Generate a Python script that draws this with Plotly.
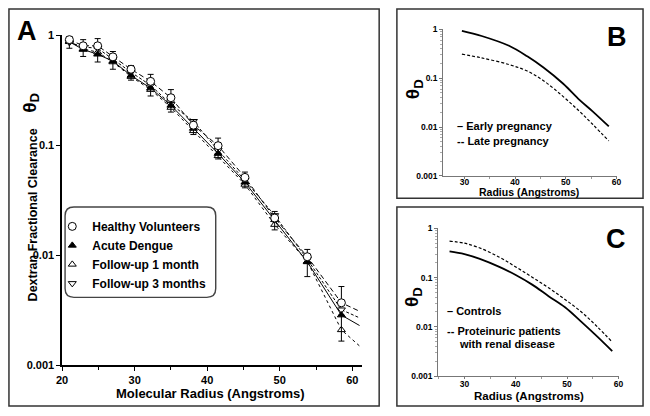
import plotly.graph_objects as go

# ---------------- Panel A data ----------------
radius = [21.0, 22.9, 24.9, 27.0, 29.5, 32.2, 35.0, 38.1, 41.5, 45.2, 49.3, 53.8, 58.5]
healthy = [0.91, 0.80, 0.80, 0.635, 0.49, 0.38, 0.27, 0.152, 0.099, 0.051, 0.0218, 0.0097, 0.0037]
healthy_upper = [0.97, 0.91, 0.93, 0.71, 0.53, 0.44, 0.32, 0.17, 0.116, 0.057, 0.025, 0.0113, 0.0052]
dengue = [0.87, 0.74, 0.67, 0.58, 0.43, 0.33, 0.23, 0.142, 0.084, 0.046, 0.021, 0.0087, 0.00286]
dengue_lower = [0.76, 0.64, 0.57, 0.49, 0.39, 0.28, 0.20, 0.125, 0.075, 0.041, 0.0170, 0.0064, 0.00166]
fu1 = [0.88, 0.75, 0.70, 0.57, 0.42, 0.32, 0.22, 0.135, 0.080, 0.044, 0.019, 0.0088, 0.0021]
fu3 = [0.86, 0.78, 0.76, 0.60, 0.46, 0.35, 0.235, 0.165, 0.090, 0.048, 0.023, 0.0092, 0.0032]
fit_end_radius = 61.0
healthy_end = 0.0031
dengue_end = 0.0023
fu1_end = 0.0015
fu3_end = 0.0027

# ---------------- Panel B data ----------------
b_radius = [29.5, 33.4, 38.8, 42.4, 45.6, 49.5, 52.7, 55.3, 58.5]
early_preg = [0.93, 0.73, 0.46, 0.28, 0.165, 0.077, 0.036, 0.021, 0.0103]
late_preg = [0.31, 0.26, 0.19, 0.14, 0.089, 0.042, 0.021, 0.0114, 0.0052]

# ---------------- Panel C data ----------------
c_radius = [27.1, 30.0, 33.0, 36.8, 40.0, 43.2, 46.4, 49.6, 52.8, 55.9, 58.8]
controls = [0.34, 0.30, 0.24, 0.165, 0.113, 0.072, 0.042, 0.025, 0.0126, 0.0063, 0.0032]
proteinuric = [0.55, 0.50, 0.40, 0.26, 0.165, 0.102, 0.062, 0.036, 0.020, 0.010, 0.0049]

log_ticks = [0.001, 0.01, 0.1, 1]
log_tick_text = ["0.001", "0.01", "0.1", "1"]

W, H = 650, 416
FONT = "Liberation Sans, Arial, sans-serif"


def fx(px):
    return px / W


def fy(py):
    return 1 - py / H


fig = go.Figure()

line_x = radius + [fit_end_radius]
series = [
    ("Follow-up 1 month", fu1, fu1_end, "dot", dict(symbol="triangle-up", color="white", size=7,
                                                     line=dict(color="black", width=1))),
    ("Follow-up 3 months", fu3, fu3_end, "3px,2px", dict(symbol="triangle-down", color="white", size=7,
                                                          line=dict(color="black", width=1))),
    ("Acute Dengue", dengue, dengue_end, "solid", dict(symbol="triangle-up", color="black", size=7,
                                                       line=dict(color="black", width=1))),
    ("Healthy Volunteers", healthy, healthy_end, "5px,3px", dict(symbol="circle", color="white", size=8,
                                                                 line=dict(color="black", width=1))),
]

# connecting / fitted lines
for name, vals, end, dash, mk in series:
    fig.add_trace(go.Scatter(x=line_x, y=vals + [end], mode="lines", showlegend=False,
                             line=dict(color="black", width=1, dash=dash),
                             xaxis="x", yaxis="y", hoverinfo="skip"))

legend_rank = {"Healthy Volunteers": 1, "Acute Dengue": 2, "Follow-up 1 month": 3, "Follow-up 3 months": 4}
for name, vals, end, dash, mk in series:
    err = None
    if name == "Healthy Volunteers":
        err = dict(type="data", symmetric=False,
                   array=[u - v for u, v in zip(healthy_upper, vals)],
                   arrayminus=[0] * len(vals), color="black", thickness=1, width=3)
    elif name == "Acute Dengue":
        err = dict(type="data", symmetric=False,
                   array=[0] * len(vals),
                   arrayminus=[v - l for v, l in zip(vals, dengue_lower)],
                   color="black", thickness=1, width=3)
    fig.add_trace(go.Scatter(x=radius, y=vals, mode="markers", name=name, marker=mk,
                             error_y=err, legendrank=legend_rank[name],
                             xaxis="x", yaxis="y", cliponaxis=False))

# Panel B
fig.add_trace(go.Scatter(x=b_radius, y=early_preg, mode="lines", showlegend=False,
                         line=dict(color="black", width=1.8, shape="spline"), xaxis="x2", yaxis="y2"))
fig.add_trace(go.Scatter(x=b_radius, y=late_preg, mode="lines", showlegend=False,
                         line=dict(color="black", width=1.2, dash="3px,2px", shape="spline"),
                         xaxis="x2", yaxis="y2"))
# Panel C
fig.add_trace(go.Scatter(x=c_radius, y=controls, mode="lines", showlegend=False,
                         line=dict(color="black", width=1.8, shape="spline"), xaxis="x3", yaxis="y3"))
fig.add_trace(go.Scatter(x=c_radius, y=proteinuric, mode="lines", showlegend=False,
                         line=dict(color="black", width=1.2, dash="3px,2px", shape="spline"),
                         xaxis="x3", yaxis="y3"))

tickfont_a = dict(family=FONT, size=11, color="black", weight="bold")
tickfont_b = dict(family=FONT, size=8.5, color="black", weight="bold")

common_x = dict(showgrid=False, zeroline=False, showline=True, ticks="outside", mirror=False)
common_y = dict(showgrid=False, zeroline=False, showline=True, ticks="outside", type="log",
                tickvals=log_ticks, ticktext=log_tick_text, range=[-3, 0])

fig.update_layout(
    width=W, height=H, margin=dict(l=0, r=0, t=0, b=0),
    paper_bgcolor="white", plot_bgcolor="white",
    font=dict(family=FONT, color="black"),
    xaxis=dict(domain=[fx(57), fx(362)], range=[20, 61.4], tick0=20, dtick=10,
               linecolor="black", linewidth=1.5, tickcolor="black", ticklen=4, tickwidth=1.2,
               minor=dict(dtick=5, ticks="outside", ticklen=3, tickcolor="black"),
               tickfont=tickfont_a, anchor="y", **common_x),
    yaxis=dict(domain=[fy(370), fy(30)], linecolor="black", linewidth=1.5, tickcolor="black",
               ticklen=4, tickwidth=1.2, tickfont=tickfont_a, anchor="x", **common_y),
    xaxis2=dict(domain=[fx(444), fx(621)], range=[25.8, 60.2], tick0=30, dtick=10,
                linecolor="#777", linewidth=1, tickcolor="#777", ticklen=2, ticklabelstandoff=-4,
                minor=dict(dtick=5, ticks="outside", ticklen=2, tickcolor="#999"),
                tickfont=tickfont_b, anchor="y2", **common_x),
    yaxis2=dict(domain=[fy(175), fy(24)], linecolor="#777", linewidth=1, tickcolor="#777",
                ticklen=3, tickfont=tickfont_b, anchor="x2",
                minor=dict(ticks="outside", ticklen=2, tickcolor="#aaa", dtick="D1"), **common_y),
    xaxis3=dict(domain=[fx(439), fx(623)], range=[24.9, 60.2], tick0=30, dtick=10,
                linecolor="#777", linewidth=1, tickcolor="#777", ticklen=2, ticklabelstandoff=-2,
                minor=dict(dtick=5, ticks="outside", ticklen=2, tickcolor="#999"),
                tickfont=tickfont_b, anchor="y3", **common_x),
    yaxis3=dict(domain=[fy(381), fy(229)], linecolor="#777", linewidth=1, tickcolor="#777",
                ticklen=3, tickfont=tickfont_b, anchor="x3",
                minor=dict(ticks="outside", ticklen=2, tickcolor="#aaa", dtick="D1"), **common_y),
    showlegend=True,
    legend=dict(x=fx(47), y=fy(212), xanchor="left", yanchor="top", bgcolor="rgba(0,0,0,0)",
                borderwidth=0, font=dict(family=FONT, size=12, color="black", weight="bold"),
                tracegroupgap=0, itemsizing="trace"),
)

# Panel frames
for (x0, y0, x1, y1) in [(3, 3, 379, 412), (397, 3, 647, 198), (397, 207, 647, 412)]:
    fig.add_shape(type="rect", xref="paper", yref="paper", x0=fx(x0), x1=fx(x1), y0=fy(y1), y1=fy(y0),
                  line=dict(color="#333", width=1.5), layer="above")

# Rounded legend box
lx0, ly0, lx1, ly1, r = 60, 207, 213, 300, 9
path = (f"M {fx(lx0 + r)},{fy(ly0)} L {fx(lx1 - r)},{fy(ly0)} Q {fx(lx1)},{fy(ly0)} {fx(lx1)},{fy(ly0 + r)} "
        f"L {fx(lx1)},{fy(ly1 - r)} Q {fx(lx1)},{fy(ly1)} {fx(lx1 - r)},{fy(ly1)} "
        f"L {fx(lx0 + r)},{fy(ly1)} Q {fx(lx0)},{fy(ly1)} {fx(lx0)},{fy(ly1 - r)} "
        f"L {fx(lx0)},{fy(ly0 + r)} Q {fx(lx0)},{fy(ly0)} {fx(lx0 + r)},{fy(ly0)} Z")
fig.add_shape(type="path", xref="paper", yref="paper", path=path,
              line=dict(color="#444", width=1.4), layer="above")


def ann(text, px, py, size, angle=0, xanchor="center", yanchor="middle"):
    fig.add_annotation(text=text, x=fx(px), y=fy(py), xref="paper", yref="paper", showarrow=False,
                       textangle=angle, xanchor=xanchor, yanchor=yanchor,
                       font=dict(family=FONT, size=size, color="black", weight="bold"))


# Panel letters
ann("A", 21, 26, 27)
ann("B", 621, 32, 27)
ann("C", 620, 240, 27)

# Panel A axis titles
ann("Dextran Fractional Clearance", 27, 215, 12.5, angle=-90)
ann("θ<sub>D</sub>", 25, 100, 19, angle=-90)
ann("Molecular Radius (Angstroms)", 208, 399, 13)

# Panel B titles / legend
ann("θ<sub>D</sub>", 414, 86, 19, angle=-90)
ann("Radius (Angstroms)", 531, 192, 10.5)
ann("– Early pregnancy", 456, 124, 11, xanchor="left")
ann("-- Late pregnancy", 456, 139, 11, xanchor="left")

# Panel C titles / legend
ann("θ<sub>D</sub>", 414, 300, 19, angle=-90)
ann("Radius (Angstroms)", 531, 402, 11.5)
ann("– Controls", 446, 314, 11, xanchor="left")
ann("-- Proteinuric patients", 446, 335, 11, xanchor="left")
ann("with renal disease", 458, 348, 11, xanchor="left")

fig.write_html("out.html", config={"displayModeBar": False},
               post_script="document.body.style.margin='0px';")
